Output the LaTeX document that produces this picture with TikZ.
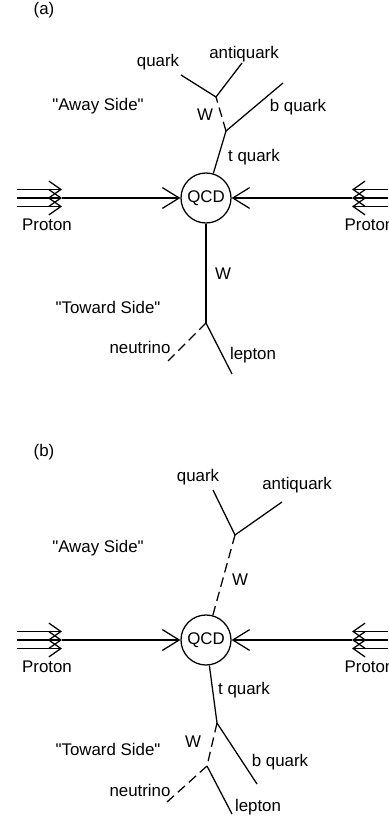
\documentclass[tikz,border=0pt]{standalone}
\usepackage{fontspec}
\setmainfont{Liberation Sans}[Ligatures=TeXOff]
\usetikzlibrary{arrows.meta,positioning,calc}

\begin{document}
\begin{tikzpicture}[x=0.025cm, y=-0.025cm, line width=0.9pt,
  font=\fontsize{12}{14}\selectfont,
  lbl/.style={inner sep=0pt},
  qcdcirc/.style={draw, circle, inner sep=0pt, minimum size=1.25cm},
  beam/.style={-{Straight Barb[length=0.3cm,width=0.42cm]}},
  hit/.style={-{Straight Barb[length=0.42cm,width=0.52cm]}},
  wdash/.style={dash pattern=on 0.24cm off 0.13cm}]
\clip (0,0) rectangle (388,819);

\foreach \p/\oy in {a/0,b/442}{
  \begin{scope}[shift={(0,\oy)}]
  \node[lbl] (tag\p) at (44,10) {(\p)};
  \node[qcdcirc] (qcd\p) at (206,198) {QCD};
  \coordinate (pl\p) at (62,198);
  \coordinate (pr\p) at (352,198);
  \foreach \dy in {-8.5,0,8.5}{
    \draw[beam] (17,198+\dy) -- (62,198+\dy);
    \draw[beam] (388,198+\dy) -- (352,198+\dy);
  }
  \draw[hit] (pl\p) -- (qcd\p);
  \draw[hit] (pr\p) -- (qcd\p);
  \node[lbl] (protl\p) at (47,225) {Proton};
  \node[lbl, anchor=west] (protr\p) at (344,225) {Proton};
  \node[lbl] (away\p) at (98,106) {"Away Side"};
  \node[lbl] (toward\p) at (108,307) {"Toward Side"};
  \end{scope}
}

\coordinate (tva) at (226,131);
\coordinate (wva) at (216,97);
\coordinate (qka) at (181,75);
\coordinate (aqa) at (242,63);
\coordinate (bqa) at (283,83);
\coordinate (wdna) at (206,323);
\coordinate (nua) at (168,361);
\coordinate (lpa) at (232,374);
\draw (qcda) -- (tva);
\draw (tva) -- (bqa);
\draw[wdash] (tva) -- (wva);
\draw (wva) -- (qka);
\draw (wva) -- (aqa);
\draw (qcda) -- (wdna);
\draw[wdash] (wdna) -- (nua);
\draw (wdna) -- (lpa);

\coordinate (wvb) at (235,535);
\coordinate (qkb) at (213,490);
\coordinate (aqb) at (282,502);
\coordinate (tvb) at (217,723);
\coordinate (bqb) at (257,784);
\coordinate (wdnb) at (207,766);
\coordinate (nub) at (167,802);
\coordinate (lpb) at (232,814);
\draw[wdash] (qcdb) -- (wvb);
\draw (wvb) -- (qkb);
\draw (wvb) -- (aqb);
\draw (qcdb) -- (tvb);
\draw (tvb) -- (bqb);
\draw[wdash] (tvb) -- (wdnb);
\draw[wdash] (wdnb) -- (nub);
\draw (wdnb) -- (lpb);

\foreach \n/\x/\y/\t in {%
qkla/158/62/quark, aqla/244/54/antiquark, bqla/298/107/b quark,%
wla/205/115/W, tqla/254/157/t quark, wdla/223/274/W,%
nula/140/347/neutrino, lpla/253/355/lepton,%
qklb/198/477/quark, aqlb/297/485/antiquark, wlb/240/580/W,%
tqlb/244/690/t quark, bqlb/280/762/b quark, wdlb/193/742/W,%
nulb/140/790/neutrino, lplb/258/807/lepton%
}{
  \node[lbl] (\n) at (\x,\y) {\t};
}
\end{tikzpicture}
\end{document}
